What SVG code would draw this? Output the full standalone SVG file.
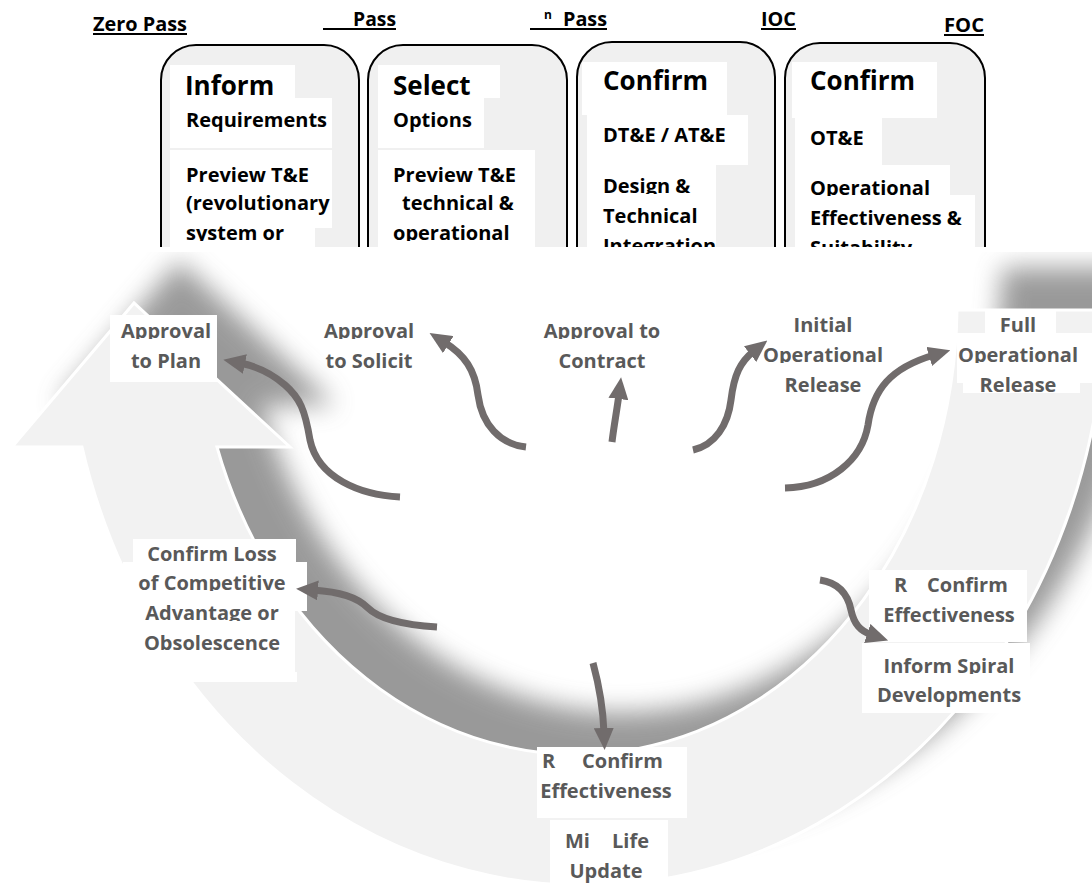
<svg xmlns="http://www.w3.org/2000/svg" width="1092" height="888" viewBox="0 0 1092 888">
<defs>
<style>
text{font-family:"Open Sans","Liberation Sans",sans-serif;font-weight:700}
.hd{font-size:20px;fill:#000}
.ul{stroke:#000;stroke-width:2}
.box{fill:#f0f0f0;stroke:#000;stroke-width:2}
.wb{fill:#fff}
.t1{font-size:26px;fill:#000}
.t2{font-size:20px;fill:#000}
.lb{font-size:20px;fill:#595959}
.c{text-anchor:middle}
.arr{fill:none;stroke:#716c6c;stroke-width:7;marker-end:url(#ah)}
</style>
<marker id="ah" markerUnits="userSpaceOnUse" markerWidth="22" markerHeight="20" refX="5" refY="10" orient="auto"><path d="M0,0 L22,10 L0,20 Z" fill="#716c6c"/></marker>
<clipPath id="topclip"><rect x="0" y="0" width="1092" height="247"/></clipPath>
<clipPath id="botclip"><rect x="0" y="252" width="1092" height="636"/></clipPath>
<filter id="blur" x="-20%" y="-20%" width="140%" height="140%"><feGaussianBlur stdDeviation="13"/></filter>
<path id="band" d="M 957 310 L 1105 310 A 520 587 0 0 1 82 447 L 12 447 L 134 303 L 290 447 L 217 447 A 380 452 0 0 0 957 310 Z"/>
</defs>
<rect width="1092" height="888" fill="#fff"/>

<g id="cycle-arrow">
<g clip-path="url(#botclip)"><use href="#band" transform="translate(45,-42)" fill="#6a6a6a" opacity="0.68" filter="url(#blur)"/></g>
<use href="#band" fill="#f2f2f2" stroke="#fff" stroke-width="3"/>
</g>

<g id="headers">
<text class="hd" x="93" y="31" textLength="94" lengthAdjust="spacingAndGlyphs">Zero Pass</text>
<line class="ul" x1="93" y1="34" x2="187" y2="34"/>
<text class="hd" x="353" y="26" textLength="43" lengthAdjust="spacingAndGlyphs">Pass</text>
<line class="ul" x1="323" y1="29" x2="396" y2="29"/>
<text x="544" y="19" style="font-size:12px;fill:#000">n</text>
<text class="hd" x="563" y="26" textLength="44" lengthAdjust="spacingAndGlyphs">Pass</text>
<line class="ul" x1="530" y1="29" x2="607" y2="29"/>
<text class="hd" x="761" y="26" textLength="35" lengthAdjust="spacingAndGlyphs">IOC</text>
<line class="ul" x1="761" y1="29" x2="796" y2="29"/>
<text class="hd" x="944" y="32" textLength="40" lengthAdjust="spacingAndGlyphs">FOC</text>
<line class="ul" x1="944" y1="35" x2="984" y2="35"/>
</g>

<g clip-path="url(#topclip)">
<g id="box-inform">
<rect class="box" x="161" y="45" width="198" height="300" rx="35"/>
<rect class="wb" x="170" y="65" width="125" height="33"/>
<rect class="wb" x="170" y="98" width="162" height="50"/>
<rect class="wb" x="170" y="150" width="162" height="78"/>
<rect class="wb" x="170" y="228" width="145" height="19"/>
<text class="t1" x="185" y="95">Inform</text>
<text class="t2" x="186" y="127">Requirements</text>
<text class="t2" x="186" y="182">Preview T&amp;E</text>
<text class="t2" x="186" y="210">(revolutionary</text>
<text class="t2" x="186" y="240">system or</text>
<rect class="wb" x="170" y="241" width="145" height="6"/>
</g>
<g id="box-select">
<rect class="box" x="368" y="45" width="199" height="300" rx="35"/>
<rect class="wb" x="378" y="65" width="122" height="33"/>
<rect class="wb" x="378" y="98" width="106" height="50"/>
<rect class="wb" x="378" y="150" width="157" height="97"/>
<text class="t1" x="393" y="95">Select</text>
<text class="t2" x="393" y="127">Options</text>
<text class="t2" x="393" y="182">Preview T&amp;E</text>
<text class="t2" x="402" y="210">technical &amp;</text>
<text class="t2" x="393" y="240">operational</text>
<rect class="wb" x="378" y="241" width="157" height="6"/>
</g>
<g id="box-confirm-dte">
<rect class="box" x="577" y="42" width="198" height="300" rx="35"/>
<rect class="wb" x="582" y="62" width="145" height="53"/>
<rect class="wb" x="587" y="115" width="161" height="50"/>
<rect class="wb" x="587" y="165" width="129" height="82"/>
<text class="t1" x="603" y="90">Confirm</text>
<text class="t2" x="603" y="142">DT&amp;E / AT&amp;E</text>
<text class="t2" x="603" y="193">Design &amp;</text>
<rect class="wb" x="587" y="194" width="129" height="6"/>
<text class="t2" x="603" y="223">Technical</text>
<text class="t2" x="603" y="253">Integration</text>
</g>
<g id="box-confirm-ote">
<rect class="box" x="785" y="43" width="200" height="300" rx="35"/>
<rect class="wb" x="792" y="62" width="145" height="56"/>
<rect class="wb" x="795" y="118" width="87" height="47"/>
<rect class="wb" x="795" y="165" width="155" height="30"/>
<rect class="wb" x="795" y="195" width="180" height="52"/>
<text class="t1" x="810" y="90">Confirm</text>
<text class="t2" x="810" y="145">OT&amp;E</text>
<text class="t2" x="810" y="195">Operational</text>
<rect class="wb" x="795" y="196" width="155" height="6"/>
<text class="t2" x="810" y="225">Effectiveness &amp;</text>
<text class="t2" x="810" y="255">Suitability</text>
</g>
</g>

<g id="lbl-plan">
<rect class="wb" x="110" y="315" width="107" height="67"/>
<text class="lb c" x="166" y="338">Approval</text>
<rect class="wb" x="116" y="339" width="100" height="6"/>
<text class="lb c" x="166" y="368">to Plan</text>
</g>
<g id="lbl-solicit">
<text class="lb c" x="369" y="338">Approval</text>
<rect class="wb" x="325" y="339" width="89" height="6"/>
<text class="lb c" x="369" y="368">to Solicit</text>
</g>
<g id="lbl-contract">
<text class="lb c" x="602" y="338">Approval to</text>
<rect class="wb" x="545" y="339" width="114" height="6"/>
<text class="lb c" x="602" y="368">Contract</text>
</g>
<g id="lbl-initial">
<text class="lb c" x="823" y="332">Initial</text>
<text class="lb c" x="823" y="362">Operational</text>
<rect class="wb" x="765" y="363" width="116" height="6"/>
<text class="lb c" x="823" y="392">Release</text>
</g>
<g id="lbl-full">
<rect class="wb" x="985" y="310" width="71" height="23"/>
<rect class="wb" x="957" y="333" width="135" height="50"/>
<rect class="wb" x="963" y="383" width="117" height="10"/>
<text class="lb c" x="1018" y="332">Full</text>
<text class="lb c" x="1018" y="362">Operational</text>
<rect class="wb" x="960" y="363" width="118" height="6"/>
<text class="lb c" x="1018" y="392">Release</text>
</g>
<g id="lbl-loss">
<rect class="wb" x="133" y="539" width="163" height="24"/>
<rect class="wb" x="123" y="562" width="184" height="49"/>
<rect class="wb" x="142" y="611" width="153" height="61"/>
<rect class="wb" x="186" y="672" width="111" height="10"/>
<text class="lb c" x="212" y="561">Confirm Loss</text>
<text class="lb c" x="212" y="590">of Competitive</text>
<rect class="wb" x="135" y="591" width="155" height="6"/>
<text class="lb c" x="212" y="620">Advantage or</text>
<rect class="wb" x="142" y="621" width="140" height="6"/>
<text class="lb c" x="212" y="650">Obsolescence</text>
</g>
<g id="lbl-reconfirm-right">
<rect class="wb" x="869" y="570" width="158" height="72"/>
<text class="lb" x="894" y="592">R</text>
<text class="lb" x="927" y="592">Confirm</text>
<text class="lb c" x="949" y="622">Effectiveness</text>
</g>
<g id="lbl-spiral">
<rect class="wb" x="862" y="643" width="168" height="70"/>
<text class="lb c" x="949" y="673">Inform Spiral</text>
<rect class="wb" x="880" y="674" width="140" height="6"/>
<text class="lb c" x="949" y="702">Developments</text>
</g>
<g id="lbl-reconfirm-bottom">
<rect class="wb" x="537" y="747" width="150" height="71"/>
<text class="lb" x="542" y="768">R</text>
<text class="lb" x="582" y="768">Confirm</text>
<text class="lb c" x="606" y="798">Effectiveness</text>
</g>
<g id="lbl-midlife">
<rect class="wb" x="550" y="820" width="118" height="68"/>
<text class="lb" x="565" y="848">Mi</text>
<text class="lb" x="612" y="848">Life</text>
<text class="lb c" x="606" y="878">Update</text>
</g>

<g id="connectors">
<path class="arr" d="M 400 497 C 360 495 318 478 310 440 C 305 410 300 398 285 385 C 270 372 255 366 240 363"/>
<path class="arr" d="M 526 447 C 500 444 482 425 478 395 C 475 370 465 355 444 342"/>
<path class="arr" d="M 612 442 C 614 425 617 410 619 394"/>
<path class="arr" d="M 693 450 C 715 445 728 425 731 400 C 734 375 740 362 754 351"/>
<path class="arr" d="M 785 488 C 830 487 862 460 868 425 C 873 390 890 368 934 355"/>
<path class="arr" d="M 437 627 C 405 625 380 620 368 608 C 357 597 340 592 313 590"/>
<path class="arr" d="M 820 580 C 840 583 848 595 851 610 C 854 624 860 631 872 635"/>
<path class="arr" d="M 593 663 C 599 685 603 705 604 733"/>
</g>
</svg>
